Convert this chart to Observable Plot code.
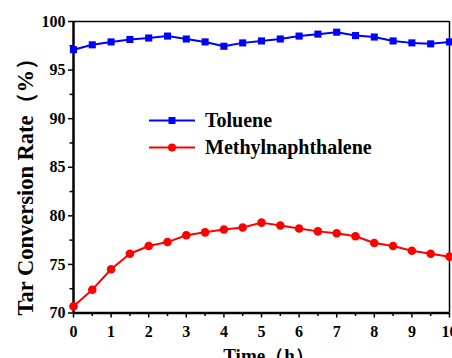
<!DOCTYPE html>
<html>
<head>
<meta charset="utf-8">
<script src="https://cdn.jsdelivr.net/npm/d3@7"></script>
<script src="https://cdn.jsdelivr.net/npm/@observablehq/plot@0.6"></script>
<style>
  html, body { margin: 0; padding: 0; background: #fff; }
  #wrap { position: relative; width: 452px; height: 358px; overflow: hidden; }
  #legend { position: absolute; left: 0; top: 0; font-family: "Liberation Serif", serif; font-weight: bold; font-size: 20px; }
</style>
</head>
<body>
<div id="wrap"></div>
<script>
// Data
const time = [0, 0.5, 1, 1.5, 2, 2.5, 3, 3.5, 4, 4.5, 5, 5.5, 6, 6.5, 7, 7.5, 8, 8.5, 9, 9.5, 10];
const toluene = [97.1, 97.6, 97.9, 98.15, 98.3, 98.5, 98.2, 97.9, 97.45, 97.8, 98.0, 98.2, 98.5, 98.7, 98.9, 98.55, 98.4, 98.0, 97.8, 97.7, 97.9];
const methylnaphthalene = [70.7, 72.4, 74.5, 76.1, 76.9, 77.3, 78.0, 78.3, 78.6, 78.8, 79.3, 79.0, 78.7, 78.4, 78.2, 77.9, 77.2, 76.9, 76.4, 76.1, 75.8];
const seriesNames = ["Toluene", "Methylnaphthalene"];
const seriesColors = ["#0000ff", "#ff0000"];
const xTicks = [0, 1, 2, 3, 4, 5, 6, 7, 8, 9, 10];
const xMinorTicks = [0.5, 1.5, 2.5, 3.5, 4.5, 5.5, 6.5, 7.5, 8.5, 9.5];
const yTicks = [70, 75, 80, 85, 90, 95, 100];
const yMinorTicks = [72.5, 77.5, 82.5, 87.5, 92.5, 97.5];
const xLabel = "Time（h）";
const yLabel = "Tar Conversion Rate（%）";

const tol = time.map((t, i) => ({t, v: toluene[i]}));
const mn = time.map((t, i) => ({t, v: methylnaphthalene[i]}));

const font = "Liberation Serif, Times New Roman, serif";

const chart = Plot.plot({
  width: 452,
  height: 358,
  marginLeft: 73,
  marginRight: 3,
  marginTop: 21,
  marginBottom: 45.5,
  style: {fontFamily: font, fontWeight: "bold", fontSize: "16px", color: "#000", background: "#fff"},
  x: {domain: [0, 10]},
  y: {domain: [70, 100]},
  marks: [
    Plot.axisX(xTicks, {tickSize: 5, tickPadding: 8, tickFormat: d => String(d), label: null, strokeWidth: 1.5, fontSize: 16}),
    Plot.axisX(xMinorTicks, {tickSize: 3.5, tickFormat: () => "", label: null, strokeWidth: 1.5}),
    Plot.axisY(yTicks, {tickSize: 5, tickPadding: 3, tickFormat: d => String(d), label: null, strokeWidth: 1.5, fontSize: 16}),
    Plot.axisY(yMinorTicks, {tickSize: 3.5, tickFormat: () => "", label: null, strokeWidth: 1.5}),
    Plot.ruleY([100], {stroke: "#000", strokeWidth: 1.5}),
    Plot.ruleX([10], {stroke: "#000", strokeWidth: 1.5}),
    Plot.ruleX([0], {stroke: "#000", strokeWidth: 2.5}),
    Plot.ruleY([70], {stroke: "#000", strokeWidth: 2.5}),
    Plot.line(tol, {x: "t", y: "v", stroke: seriesColors[0], strokeWidth: 2}),
    Plot.dot(tol, {x: "t", y: "v", symbol: "square", r: 4, fill: seriesColors[0], stroke: "none"}),
    Plot.line(mn, {x: "t", y: "v", stroke: seriesColors[1], strokeWidth: 2}),
    Plot.dot(mn, {x: "t", y: "v", symbol: "circle", r: 4.3, fill: seriesColors[1], stroke: "none"}),
    Plot.text([yLabel], {frameAnchor: "left", textAnchor: "middle", lineAnchor: "middle", rotate: -90, dx: -48, dy: 14, fontSize: 22.5, fontWeight: "bold", fontFamily: font, fill: "#000"}),
    Plot.text([xLabel], {frameAnchor: "bottom", lineAnchor: "bottom", dy: 49, dx: 7, fontSize: 19, fontWeight: "bold", fontFamily: font, fill: "#000"})
  ]
});

const wrap = document.getElementById("wrap");
wrap.appendChild(chart);

// Legend overlay
const ns = "http://www.w3.org/2000/svg";
const leg = document.createElementNS(ns, "svg");
leg.setAttribute("id", "legend");
leg.setAttribute("width", 452);
leg.setAttribute("height", 358);
const rows = [120.5, 147.5];
seriesNames.forEach((name, i) => {
  const y = rows[i];
  const line = document.createElementNS(ns, "line");
  line.setAttribute("x1", 149); line.setAttribute("x2", 195);
  line.setAttribute("y1", y); line.setAttribute("y2", y);
  line.setAttribute("stroke", seriesColors[i]); line.setAttribute("stroke-width", 2);
  leg.appendChild(line);
  if (i === 0) {
    const r = document.createElementNS(ns, "rect");
    r.setAttribute("x", 168.5); r.setAttribute("y", y - 3.5);
    r.setAttribute("width", 7); r.setAttribute("height", 7);
    r.setAttribute("fill", seriesColors[i]);
    leg.appendChild(r);
  } else {
    const c = document.createElementNS(ns, "circle");
    c.setAttribute("cx", 172); c.setAttribute("cy", y); c.setAttribute("r", 4);
    c.setAttribute("fill", seriesColors[i]);
    leg.appendChild(c);
  }
  const t = document.createElementNS(ns, "text");
  t.setAttribute("x", 205); t.setAttribute("y", y + 6.5);
  t.setAttribute("fill", "#000");
  t.textContent = name;
  leg.appendChild(t);
});
wrap.appendChild(leg);
</script>
</body>
</html>
